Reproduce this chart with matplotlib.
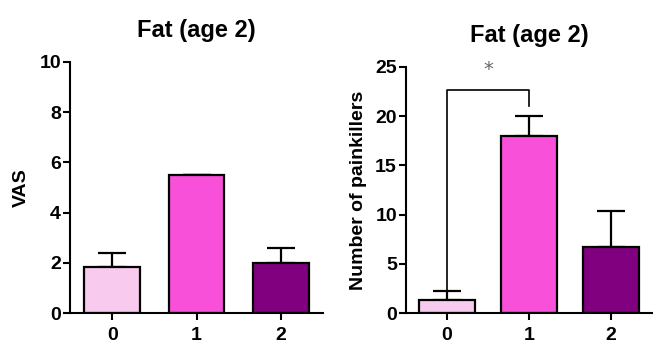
import matplotlib
matplotlib.use('Agg')
import matplotlib.pyplot as plt

# data
groups = ['0', '1', '2']
vas_mean = [1.83, 5.48, 2.0]
vas_err = [0.56, 0.0, 0.57]
pk_mean = [1.32, 18.0, 6.74]
pk_err = [0.95, 1.98, 3.62]
bracket_y = 22.7
bracket_left_end = 2.3
bracket_right_end = 21.0

colors = ['#F8CAEE', '#F850D9', '#800080']

plt.rcParams['font.family'] = ['Liberation Sans', 'DejaVu Sans']
plt.rcParams['font.weight'] = 'bold'

fig = plt.figure(figsize=(6.53, 3.44), dpi=100)
ax1 = fig.add_axes([70 / 653, 1 - 313 / 344, 253 / 653, 251 / 344])
ax2 = fig.add_axes([406 / 653, 1 - 313 / 344, 246 / 653, 246 / 344])

x = list(range(len(groups)))


def style(ax, ylim, yticks, ylabel):
    ax.set_xlim(-0.5, 2.5)
    ax.set_ylim(*ylim)
    ax.set_yticks(yticks)
    ax.set_xticks(x)
    ax.set_xticklabels(groups, fontsize=14, fontweight='bold')
    ax.tick_params(axis='y', labelsize=14, width=1.5, length=5, pad=1.5)
    ax.tick_params(axis='x', width=1.5, length=5, pad=5)
    for t in ax.get_yticklabels():
        t.set_fontweight('bold')
    for s in ['top', 'right']:
        ax.spines[s].set_visible(False)
    for s in ['left', 'bottom']:
        ax.spines[s].set_linewidth(1.5)
    ax.set_ylabel(ylabel, fontsize=14, fontweight='bold')
    ax.set_title('Fat (age 2)', fontsize=17, fontweight='bold', pad=18)


ax1.bar(x, vas_mean, width=0.66, color=colors, edgecolor='black', linewidth=1.6, zorder=2)
ax1.errorbar(x, vas_mean, yerr=[[0] * 3, vas_err], fmt='none', ecolor='black',
             elinewidth=1.6, capsize=10, capthick=1.6, zorder=1)
style(ax1, (0, 10), [0, 2, 4, 6, 8, 10], 'VAS')
ax1.yaxis.set_label_coords(-0.16, 0.5)

ax2.bar(x, pk_mean, width=0.68, color=colors, edgecolor='black', linewidth=1.6, zorder=2)
ax2.errorbar(x, pk_mean, yerr=[[0] * 3, pk_err], fmt='none', ecolor='black',
             elinewidth=1.6, capsize=10, capthick=1.6, zorder=1)
style(ax2, (0, 25), [0, 5, 10, 15, 20, 25], 'Number of painkillers')
ax2.yaxis.set_label_coords(-0.16, 0.5)

# significance bracket
ax2.plot([0, 0, 1, 1], [bracket_left_end, bracket_y, bracket_y, bracket_right_end],
         color='black', linewidth=1.2, clip_on=False, zorder=3)
ax2.text(0.5, 24.7, '*', ha='center', va='center', fontsize=14,
         fontweight='normal', color='#666666', family='DejaVu Sans')

fig.savefig('out.png', dpi=100, facecolor='white')
